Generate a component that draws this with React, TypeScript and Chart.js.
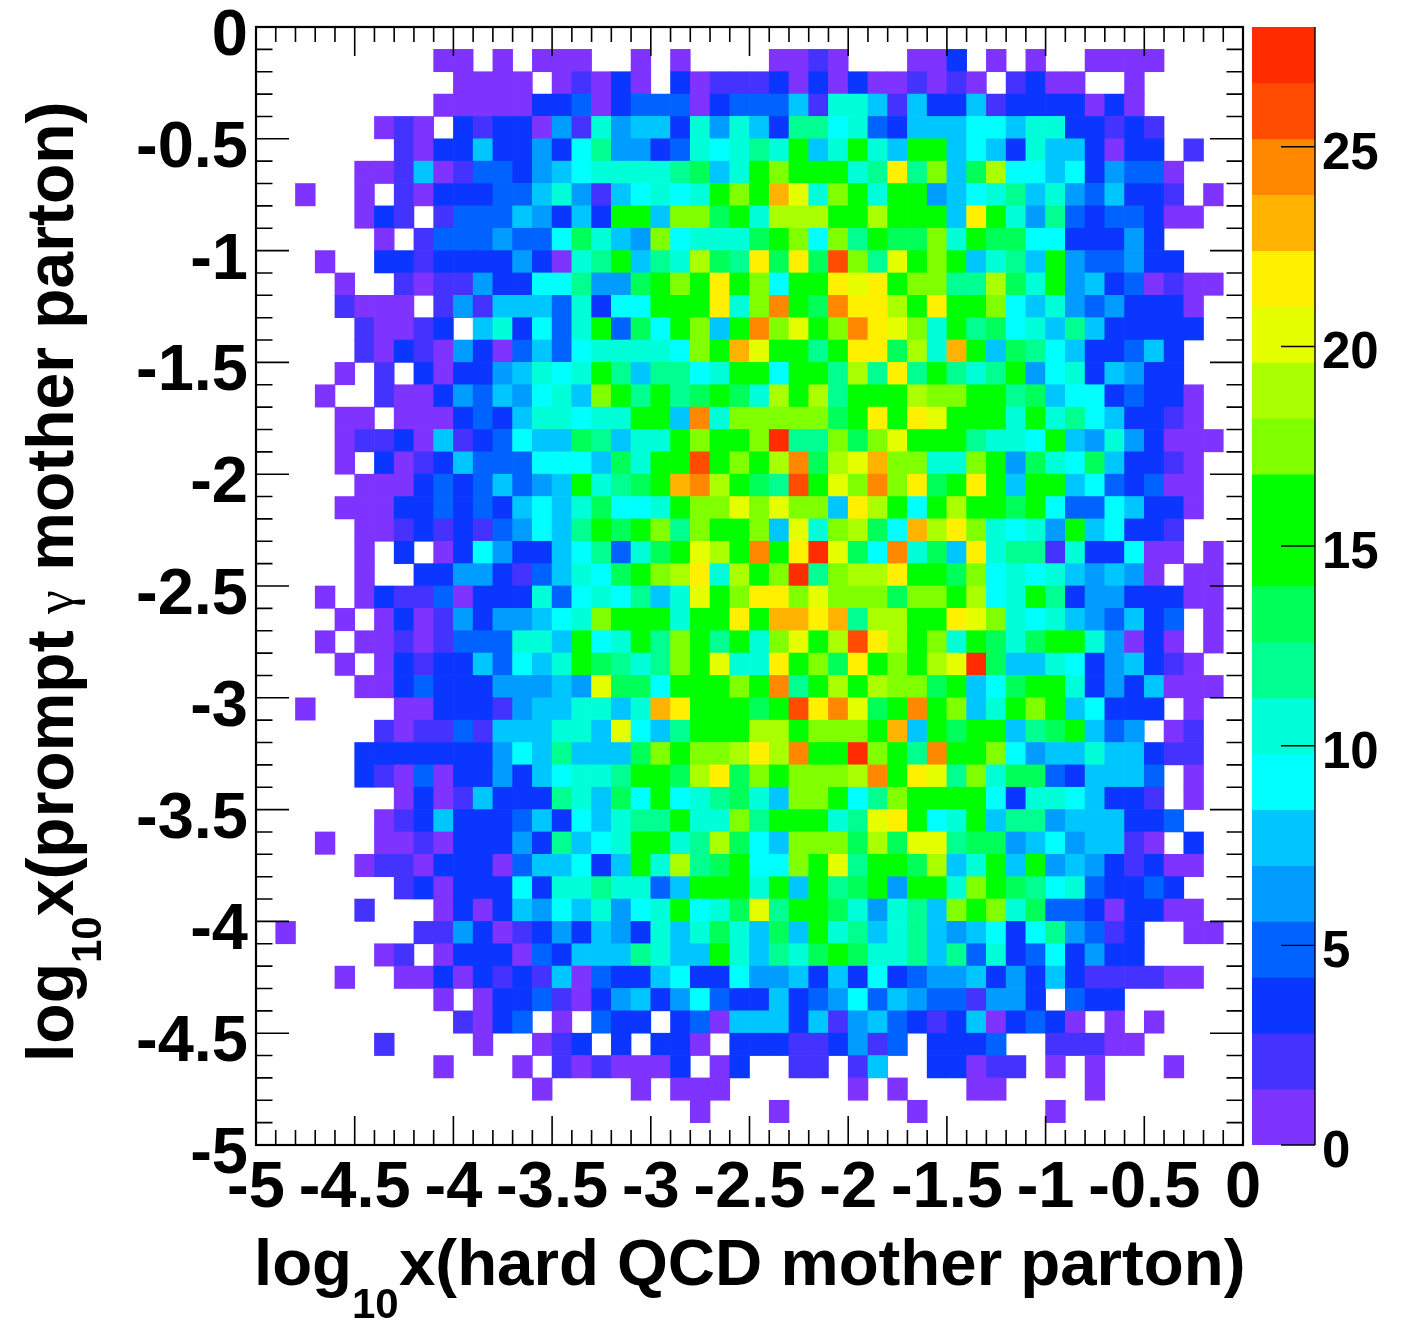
import React, { useEffect, useRef } from "react";
import { Chart, registerables } from "chart.js";

Chart.register(...registerables);

// Bin contents, top row (y = 0) to bottom row (y = -5), 50 bins per row.
const row00 = [0,0,0,0,0,0,0,0,0,0, 0,0,0,0,0,0,0,0,0,0, 0,0,0,0,0,0,0,0,0,0, 0,0,0,0,0,0,0,0,0,0, 0,0,0,0,0,0,0,0,0,0];
const row01 = [0,0,0,0,0,0,0,0,0,1, 1,0,1,0,1,1,1,0,0,1, 0,1,0,0,0,0,1,1,2,1, 0,0,0,1,1,3,0,1,0,1, 0,0,1,1,1,1,0,0,0,0];
const row02 = [0,0,0,0,0,0,0,0,0,0, 1,1,1,1,0,1,2,1,3,1, 0,3,1,2,2,2,3,1,3,1, 3,1,1,2,1,2,1,0,2,3, 1,1,0,0,1,0,0,0,0,0];
const row03 = [0,0,0,0,0,0,0,0,0,1, 1,1,1,1,3,3,5,1,3,5, 5,5,1,3,5,5,5,8,2,10, 10,8,2,8,3,3,8,2,3,3, 3,3,1,3,1,0,0,0,0,0];
const row04 = [0,0,0,0,0,0,1,2,1,0, 3,2,3,3,1,6,2,10,6,8, 8,3,10,6,10,8,3,12,12,9, 10,5,3,8,8,8,9,9,8,10, 10,3,3,2,3,2,0,0,0,0];
const row05 = [0,0,0,0,0,0,0,2,1,3, 3,8,3,3,6,3,9,12,6,6, 3,5,10,9,10,12,10,15,8,10, 15,10,8,15,15,8,9,8,3,10, 8,8,3,1,3,3,0,2,0,0];
const row06 = [0,0,0,0,0,1,1,2,8,1, 2,5,5,3,6,8,9,10,10,10, 10,12,13,8,10,15,17,15,15,15, 10,12,22,12,17,8,13,19,9,9, 8,9,3,6,5,5,1,0,0,0];
const row07 = [0,0,1,0,0,1,0,2,1,3, 3,3,5,5,8,10,6,2,8,9, 10,9,10,15,17,15,23,20,10,17, 15,10,15,15,6,8,9,10,12,8, 10,6,5,8,3,3,2,0,1,0];
const row08 = [0,0,0,0,0,1,3,2,0,2, 5,5,5,8,6,3,8,3,15,15, 8,17,17,13,15,10,19,19,19,15, 15,19,15,15,15,8,22,15,10,6, 12,5,3,5,5,3,1,1,0,0];
const row09 = [0,0,0,0,0,0,1,0,2,5, 5,5,6,5,5,9,13,10,8,6, 17,9,10,10,10,13,15,17,9,17, 12,15,13,13,17,10,15,13,13,9, 9,3,3,3,6,3,0,0,0,0];
const row10 = [0,0,0,1,0,0,3,3,2,3, 3,3,3,6,3,1,10,12,15,8, 12,10,19,13,12,22,13,22,13,26, 17,12,20,15,17,15,8,10,12,8, 15,6,5,5,6,3,3,0,0,0];
const row11 = [0,0,0,0,1,0,0,2,1,2, 2,6,3,3,9,9,12,6,6,13, 15,17,15,22,15,17,9,15,15,22, 20,22,15,17,17,12,12,19,13,10, 15,6,8,3,5,1,2,1,1,0];
const row12 = [0,0,0,0,2,1,1,1,0,2, 6,2,8,8,8,5,10,3,9,9, 15,15,15,22,10,17,25,15,13,25, 22,22,19,15,22,15,15,17,9,8, 10,6,5,6,3,3,3,1,0,0];
const row13 = [0,0,0,0,0,2,1,1,2,3, 0,8,10,3,9,5,10,15,5,13, 9,15,17,8,15,25,17,20,15,17, 25,22,20,17,10,15,12,13,9,10, 8,12,8,3,3,3,3,3,0,0];
const row14 = [0,0,0,0,0,2,1,3,2,1, 6,3,1,5,8,5,9,10,10,10, 10,9,17,15,23,20,15,15,12,15, 22,22,13,19,10,23,15,8,13,12, 9,8,3,3,5,8,3,0,0,0];
const row15 = [0,0,0,0,1,0,2,0,3,1, 3,3,6,8,10,9,10,15,12,8, 12,12,9,10,15,15,9,15,15,12, 19,12,22,12,15,12,10,12,15,6, 9,10,3,8,6,3,3,0,0,0];
const row16 = [0,0,0,1,0,0,2,1,1,3, 6,5,8,6,9,10,8,17,15,12, 15,12,13,15,13,10,19,15,19,12, 15,15,15,19,17,17,15,15,12,13, 8,9,9,3,5,3,3,1,0,0];
const row17 = [0,0,0,0,1,1,0,1,1,1, 3,5,3,8,10,10,9,10,10,15, 15,8,25,10,17,17,17,17,17,13, 15,22,15,22,20,15,15,15,10,15, 10,12,9,8,3,3,2,1,0,0];
const row18 = [0,0,0,0,1,2,2,3,1,8, 2,3,5,9,8,8,13,12,8,10, 10,15,17,15,15,17,27,12,12,17, 13,17,20,15,15,15,12,10,10,9, 15,8,6,10,6,3,1,1,1,0];
const row19 = [0,0,0,0,1,0,3,1,2,3, 8,5,5,5,9,9,9,8,13,10, 15,15,26,15,17,15,19,25,13,19, 20,23,17,17,10,10,17,15,6,13, 10,9,13,8,3,3,2,1,0,0];
const row20 = [0,0,0,0,0,1,1,1,3,5, 3,5,8,5,6,8,15,10,12,13, 15,23,25,19,15,13,12,26,15,20, 17,25,17,22,13,15,22,15,8,15, 15,8,9,5,3,5,1,1,0,0];
const row21 = [0,0,0,0,1,1,1,3,3,5, 3,5,3,8,9,8,10,13,9,9, 10,15,17,17,20,17,20,17,17,8, 22,19,15,9,15,19,15,15,13,15, 9,5,5,9,8,3,3,1,0,0];
const row22 = [0,0,0,0,0,1,1,2,3,2, 3,2,5,6,9,8,12,15,13,15, 17,12,17,15,15,17,8,20,10,17, 19,13,9,23,19,22,17,10,9,10, 6,15,8,9,3,3,2,0,0,0];
const row23 = [0,0,0,0,0,1,0,3,0,1, 3,9,6,3,3,8,9,12,5,10, 13,15,20,19,15,25,15,22,27,20, 13,9,25,10,13,8,22,10,12,12, 2,10,3,3,9,1,1,0,1,0];
const row24 = [0,0,0,0,0,1,0,0,3,3, 6,6,3,2,5,8,10,9,13,15, 17,19,22,10,19,15,17,27,12,17, 19,19,22,15,15,13,17,9,10,9, 10,8,6,8,6,1,0,1,1,0];
const row25 = [0,0,0,1,0,1,3,2,2,5, 1,3,3,3,10,5,9,10,9,12, 8,10,20,15,17,22,22,17,20,17, 17,17,13,17,17,15,19,9,10,15, 12,3,6,6,3,3,3,1,1,0];
const row26 = [0,0,0,0,1,0,1,3,1,2, 6,3,6,6,8,9,10,17,15,15, 15,10,15,15,22,15,23,23,22,23, 12,19,19,15,15,22,20,17,10,9, 10,8,6,5,8,3,5,0,1,0];
const row27 = [0,0,0,1,0,1,1,2,1,2, 5,5,5,10,10,8,15,9,10,15, 12,17,15,12,15,10,17,20,15,19, 26,22,19,15,17,10,15,13,10,13, 15,15,10,6,1,3,1,0,1,0];
const row28 = [0,0,0,0,1,0,1,3,2,3, 3,8,5,9,8,10,15,13,12,10, 12,17,15,20,10,10,22,15,17,13, 22,15,17,15,19,20,27,13,8,8, 10,9,3,6,8,3,2,1,0,0];
const row29 = [0,0,0,0,0,1,1,3,5,3, 3,3,6,6,6,8,6,20,13,13, 9,15,15,15,17,15,25,12,15,19, 15,19,17,17,13,15,8,9,13,15, 15,10,3,6,3,8,1,1,1,0];
const row30 = [0,0,1,0,0,0,0,1,1,3, 3,3,2,6,8,8,10,10,8,10, 23,22,15,15,15,13,15,26,22,25, 20,13,15,25,15,17,8,10,15,17, 15,8,9,3,3,3,0,1,0,0];
const row31 = [0,0,0,0,0,0,2,1,2,2, 5,2,8,8,8,10,10,8,20,9, 8,12,15,15,15,19,19,15,17,17, 17,15,23,8,15,13,15,15,8,12, 13,15,8,5,6,0,1,2,0,0];
const row32 = [0,0,0,0,0,3,3,3,3,3, 3,3,6,9,8,12,8,8,8,13, 17,15,17,17,19,22,19,25,15,15, 27,17,15,12,25,15,15,17,9,6, 8,8,10,8,8,3,2,2,0,0];
const row33 = [0,0,0,0,0,3,2,1,5,1, 3,3,6,3,8,9,10,10,12,15, 15,13,19,22,13,17,15,17,17,17, 19,25,15,22,20,12,17,10,13,13, 5,3,8,8,8,5,0,1,0,0];
const row34 = [0,0,0,0,0,0,0,1,3,1, 2,8,3,3,3,12,10,8,13,9, 15,9,10,12,13,10,8,17,17,15, 9,12,17,15,15,15,15,9,3,10, 10,9,8,3,3,2,0,1,0,0];
const row35 = [0,0,0,0,0,0,1,2,3,8, 3,3,3,5,8,3,9,8,10,12, 12,15,10,10,17,12,15,15,15,10, 12,20,22,15,9,10,15,8,12,12, 6,8,8,8,3,3,5,0,0,0];
const row36 = [0,0,0,1,0,0,1,1,2,1, 3,3,3,6,3,12,8,9,10,15, 15,10,12,19,13,9,8,17,17,17, 13,19,13,20,20,12,13,13,6,8, 9,6,8,8,2,1,0,3,0,0];
const row37 = [0,0,0,0,0,1,2,2,1,3, 3,3,1,5,8,8,9,3,8,15, 10,19,12,13,15,9,9,17,15,20, 12,15,15,13,19,8,10,15,8,15, 6,8,6,3,2,3,1,1,0,0];
const row38 = [0,0,0,0,0,0,0,2,3,1, 3,3,3,9,3,10,10,12,10,10, 5,8,15,15,15,10,15,8,15,12, 13,15,6,15,15,10,17,15,13,12, 9,10,5,3,3,5,3,0,0,0];
const row39 = [0,0,0,0,0,2,0,0,0,1, 3,1,3,8,6,9,8,10,6,9, 10,15,9,10,13,20,12,15,15,13, 10,6,10,12,8,17,15,17,10,13, 5,5,3,1,3,3,1,1,0,0];
const row40 = [0,1,0,0,0,0,0,0,2,2, 6,3,1,2,3,6,3,8,6,3, 10,8,10,13,10,8,13,8,15,10, 12,8,10,12,8,6,8,9,3,9, 12,6,5,2,3,0,0,1,1,0];
const row41 = [0,0,0,0,0,0,1,2,0,1, 3,3,3,1,5,3,8,8,8,12, 10,8,8,15,10,8,12,10,13,15, 13,10,10,12,8,12,5,10,3,5, 9,3,6,3,3,0,0,0,0,0];
const row42 = [0,0,0,0,1,0,0,1,1,3, 1,3,2,3,2,8,1,5,3,3, 8,9,3,3,9,6,6,8,3,8, 3,9,3,5,6,6,8,3,6,3, 8,3,2,2,2,2,1,1,0,0];
const row43 = [0,0,0,0,0,0,0,0,0,1, 0,1,3,3,5,2,1,3,6,8, 3,6,9,5,3,3,8,3,5,6, 9,5,8,6,5,5,2,6,6,3, 0,5,3,3,0,0,0,0,0,0];
const row44 = [0,0,0,0,0,0,0,0,0,0, 2,1,3,5,0,1,0,5,3,3, 0,3,5,1,8,8,8,3,8,2, 6,8,5,3,2,3,8,1,3,5, 3,1,0,1,0,1,0,0,0,0];
const row45 = [0,0,0,0,0,0,2,0,0,0, 0,1,0,0,1,2,3,0,3,0, 3,3,1,0,3,3,3,2,2,3, 6,2,5,0,3,3,3,5,0,0, 2,2,2,1,1,0,0,0,0,0];
const row46 = [0,0,0,0,0,0,0,0,0,1, 0,0,0,1,0,2,1,2,1,1, 1,3,0,1,3,0,0,2,2,0, 2,8,0,0,3,3,1,2,2,0, 1,0,1,0,0,0,1,0,0,0];
const row47 = [0,0,0,0,0,0,0,0,0,0, 0,0,0,0,1,0,0,0,0,1, 0,1,1,1,0,0,0,0,0,0, 1,0,1,0,0,0,1,1,0,0, 0,0,1,0,0,0,0,0,0,0];
const row48 = [0,0,0,0,0,0,0,0,0,0, 0,0,0,0,0,0,0,0,0,0, 0,0,1,0,0,0,1,0,0,0, 0,0,0,1,0,0,0,0,0,0, 1,0,0,0,0,0,0,0,0,0];
const row49 = [0,0,0,0,0,0,0,0,0,0, 0,0,0,0,0,0,0,0,0,0, 0,0,0,0,0,0,0,0,0,0, 0,0,0,0,0,0,0,0,0,0, 0,0,0,0,0,0,0,0,0,0];

const rows = [
  row00,row01,row02,row03,row04,row05,row06,row07,row08,row09,
  row10,row11,row12,row13,row14,row15,row16,row17,row18,row19,
  row20,row21,row22,row23,row24,row25,row26,row27,row28,row29,
  row30,row31,row32,row33,row34,row35,row36,row37,row38,row39,
  row40,row41,row42,row43,row44,row45,row46,row47,row48,row49,
];

// 20 equal colour contours from 0 to 28.
const palette = [
  "#7f33ff","#4433ff","#0a36ff","#0062ff","#009cff",
  "#00c6ff","#00ffff","#00ffd9","#00ff90","#00ff59",
  "#00ff00","#00ff00","#7fff00","#aaff00","#e5ff00",
  "#fff000","#ffb300","#ff8800","#ff4c00","#ff2c00",
];
const zMax = 28;
const binSize = 0.1;
const FONT = '"Liberation Sans", Arial, sans-serif';
const xTitleParts = ["log", "10", "x(hard QCD mother parton)"];
const yTitleParts = ["log", "10", "x(prompt ", "\u03b3", " mother parton)"];

const colorFor = (v: number) =>
  palette[Math.min(palette.length - 1, Math.ceil((v / zMax) * palette.length) - 1)];

const cells: { x: number; y: [number, number]; v: number }[] = [];
rows.forEach((row, r) =>
  row.forEach((v, c) => {
    if (v > 0) {
      cells.push({
        x: -5 + (c + 0.5) * binSize,
        y: [-(r + 1) * binSize, -r * binSize],
        v,
      });
    }
  })
);

const contourBars = palette.map((color, i) => ({
  x: 0.5,
  y: [(i * zMax) / palette.length, ((i + 1) * zMax) / palette.length] as [number, number],
  v: ((i + 0.5) * zMax) / palette.length,
}));

const tenths = (v: number) => Math.round(v * 10);

const noMargins = (s: any) => {
  s.paddingTop = 0;
  s.paddingBottom = 0;
  s.paddingLeft = 0;
  s.paddingRight = 0;
};

const framePlugin = {
  id: "frame",
  afterDraw(chart: any) {
    const { ctx, chartArea: a, scales } = chart;
    ctx.save();
    ctx.strokeStyle = "#000";
    ctx.lineWidth = 1.6;
    ctx.beginPath();
    scales.x.ticks.forEach((t: any) => {
      const px = scales.x.getPixelForValue(t.value);
      const len = tenths(t.value) % 5 === 0 ? 29 : 15;
      ctx.moveTo(px, a.bottom);
      ctx.lineTo(px, a.bottom - len);
      ctx.moveTo(px, a.top);
      ctx.lineTo(px, a.top + len);
    });
    scales.y.ticks.forEach((t: any) => {
      const py = scales.y.getPixelForValue(t.value);
      const len = tenths(t.value) % 5 === 0 ? 33 : 16.5;
      ctx.moveTo(a.left, py);
      ctx.lineTo(a.left + len, py);
      ctx.moveTo(a.right, py);
      ctx.lineTo(a.right - len, py);
    });
    ctx.stroke();
    ctx.lineWidth = 2.2;
    ctx.strokeRect(a.left, a.top, a.right - a.left, a.bottom - a.top);

    // Axis titles with subscripts
    ctx.fillStyle = "#000";
    ctx.textBaseline = "alphabetic";
    ctx.textAlign = "left";
    const big = `bold 66px ${FONT}`;
    const sub = `bold 42px ${FONT}`;
    ctx.font = `bold 65.4px ${FONT}`;
    ctx.fillText(xTitleParts[0], 254, 1285);
    ctx.font = sub;
    ctx.fillText(xTitleParts[1], 352, 1318);
    ctx.font = `bold 65.4px ${FONT}`;
    ctx.fillText(xTitleParts[2], 399, 1285);

    ctx.translate(73, 1062);
    ctx.rotate(-Math.PI / 2);
    ctx.font = big;
    ctx.fillText(yTitleParts[0], 0, 0);
    let pos = ctx.measureText(yTitleParts[0]).width;
    ctx.font = sub;
    ctx.fillText(yTitleParts[1], pos, 28);
    pos += ctx.measureText(yTitleParts[1]).width;
    ctx.font = big;
    ctx.fillText(yTitleParts[2], pos, 0);
    pos += ctx.measureText(yTitleParts[2]).width - 2;
    ctx.font = `54px "Liberation Serif", serif`;
    ctx.fillText(yTitleParts[3], pos, 0);
    pos += ctx.measureText(yTitleParts[3]).width + 1;
    ctx.font = big;
    ctx.fillText(yTitleParts[4], pos, 0);
    ctx.restore();
  },
};

const barTickPlugin = {
  id: "barTicks",
  afterDraw(chart: any) {
    const { ctx, chartArea: a, scales } = chart;
    ctx.save();
    ctx.strokeStyle = "#000";
    ctx.lineWidth = 1.4;
    ctx.beginPath();
    scales.y.ticks.forEach((t: any) => {
      const py = scales.y.getPixelForValue(t.value);
      ctx.moveTo(a.right, py);
      ctx.lineTo(a.right - 34, py);
    });
    ctx.moveTo(a.right, a.top);
    ctx.lineTo(a.right, a.bottom);
    ctx.stroke();
    ctx.restore();
  },
};

export default function App() {
  const mainRef = useRef<HTMLCanvasElement>(null);
  const barRef = useRef<HTMLCanvasElement>(null);

  useEffect(() => {
    const main = new Chart(mainRef.current!, {
      type: "bar",
      data: {
        datasets: [
          {
            data: cells as any,
            backgroundColor: (ctx: any) => colorFor(ctx.raw?.v ?? 1),
            barPercentage: 1,
            categoryPercentage: 1,
            borderWidth: 0,
          },
        ],
      },
      options: {
        responsive: false,
        animation: false,
        layout: { padding: { left: 0, right: 162, top: 27, bottom: 0 } },
        plugins: { legend: { display: false }, tooltip: { enabled: false } },
        scales: {
          x: {
            type: "linear",
            offset: false,
            min: -5,
            max: 0,
            afterFit: (s: any) => { s.height = 177; noMargins(s); },
            grid: { display: false, drawTicks: false },
            border: { display: false },
            ticks: {
              stepSize: binSize,
              autoSkip: false,
              maxRotation: 0,
              minRotation: 0,
              padding: 5,
              color: "#000",
              font: { family: FONT, size: 65, weight: "bold" },
              callback: (v: any) => (tenths(v) % 5 === 0 ? String(tenths(v) / 10) : ""),
            },
          },
          y: {
            type: "linear",
            min: -5,
            max: 0,
            afterFit: (s: any) => { s.width = 256; noMargins(s); },
            grid: { display: false, drawTicks: false },
            border: { display: false },
            ticks: {
              stepSize: binSize,
              autoSkip: false,
              padding: 8,
              labelOffset: 10,
              color: "#000",
              font: { family: FONT, size: 65, weight: "bold" },
              callback: (v: any) => (tenths(v) % 5 === 0 ? String(tenths(v) / 10) : ""),
            },
          },
        },
      } as any,
      plugins: [framePlugin],
    });

    const bar = new Chart(barRef.current!, {
      type: "bar",
      data: {
        datasets: [
          {
            data: contourBars as any,
            backgroundColor: (ctx: any) => colorFor(ctx.raw?.v ?? 1),
            barThickness: 63,
            borderWidth: 0,
          },
        ],
      },
      options: {
        responsive: false,
        animation: false,
        layout: { padding: { left: 7, right: 0, top: 27, bottom: 177 } },
        plugins: { legend: { display: false }, tooltip: { enabled: false } },
        scales: {
          x: { type: "linear", offset: false, min: 0, max: 1, display: false },
          y: {
            type: "linear",
            position: "right",
            min: 0,
            max: zMax,
            afterFit: (s: any) => { s.width = 90; noMargins(s); },
            grid: { display: false, drawTicks: false },
            border: { display: false },
            ticks: {
              stepSize: 5,
              includeBounds: false,
              padding: 7,
              labelOffset: 8,
              color: "#000",
              font: { family: FONT, size: 51, weight: "bold" },
            },
          },
        },
      } as any,
      plugins: [barTickPlugin],
    });

    return () => {
      main.destroy();
      bar.destroy();
    };
  }, []);

  return (
    <div style={{ position: "absolute", left: 0, top: 0, width: 1405, height: 1322, background: "#fff", overflow: "hidden" }}>
      <canvas ref={mainRef} width={1405} height={1322} style={{ position: "absolute", left: 0, top: 0 }} />
      <canvas ref={barRef} width={160} height={1322} style={{ position: "absolute", left: 1245, top: 0 }} />
    </div>
  );
}
